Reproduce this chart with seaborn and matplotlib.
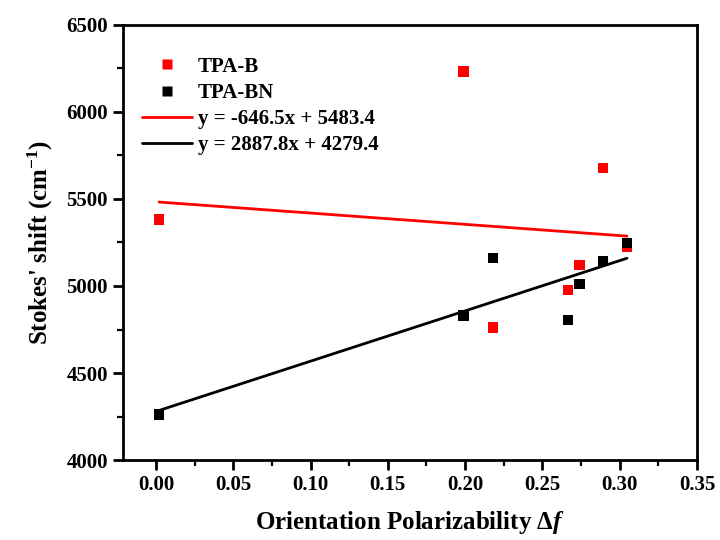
import numpy as np
import pandas as pd
import matplotlib
matplotlib.use('Agg')
from matplotlib import pyplot as plt
from matplotlib.ticker import MultipleLocator, FormatStrFormatter
import seaborn as sns

# data
delta_f = [0.002, 0.199, 0.218, 0.2665, 0.274, 0.289, 0.3047]
shift_tpa_b = [5382, 6232, 4762, 4978, 5120, 5678, 5222]
shift_tpa_bn = [4262, 4830, 5162, 4806, 5010, 5143, 5246]
series = ['TPA-B', 'TPA-BN']
colors = ['#ff0000', '#000000']
# linear fits as printed in the legend
slopes = [-646.5, 2887.8]
intercepts = [5483.4, 4279.4]
fit_labels = ['y = -646.5x + 5483.4', 'y = 2887.8x + 4279.4']

sns.set_style('ticks')
plt.rcParams['font.family'] = ['Liberation Serif', 'DejaVu Serif']
plt.rcParams['font.weight'] = 'bold'
plt.rcParams['mathtext.fontset'] = 'custom'
plt.rcParams['mathtext.rm'] = 'Liberation Serif:bold'
plt.rcParams['mathtext.bf'] = 'Liberation Serif:bold'
plt.rcParams['mathtext.it'] = 'Liberation Serif:bold:italic'
for k in ['text.color', 'axes.labelcolor', 'xtick.color', 'ytick.color', 'axes.edgecolor']:
    plt.rcParams[k] = 'black'

df = pd.DataFrame({
    'df': delta_f * 2,
    'shift': shift_tpa_b + shift_tpa_bn,
    'sample': [series[0]] * len(delta_f) + [series[1]] * len(delta_f),
})

fig = plt.figure(figsize=(7.2, 5.4), dpi=100)
ax = fig.add_axes([0.171, 0.148, 0.797, 0.806])

sns.scatterplot(data=df, x='df', y='shift', hue='sample', hue_order=series,
                palette=colors, marker='s', s=55, edgecolor='none', ax=ax, zorder=3)

xfit = np.array([min(delta_f), max(delta_f)])
for m, b, c, lab in zip(slopes, intercepts, colors, fit_labels):
    sns.lineplot(x=xfit, y=m * xfit + b, color=c, lw=2, label=lab, ax=ax, zorder=2)

ax.set_xlim(-0.0213, 0.35)
ax.set_ylim(4000, 6500)
ax.xaxis.set_major_locator(MultipleLocator(0.05))
ax.xaxis.set_minor_locator(MultipleLocator(0.025))
ax.yaxis.set_major_locator(MultipleLocator(500))
ax.yaxis.set_minor_locator(MultipleLocator(250))
ax.xaxis.set_major_formatter(FormatStrFormatter('%.2f'))

for s in ax.spines.values():
    s.set_linewidth(2)
    s.set_visible(True)
ax.tick_params(which='major', direction='out', length=7, width=2, labelsize=15, pad=4)
ax.tick_params(which='minor', direction='out', length=4, width=1.6)
for t in ax.get_xticklabels() + ax.get_yticklabels():
    t.set_fontweight('bold')

ax.set_xlabel('Orientation Polarizability $\\Delta\\mathit{f}$', fontsize=18, fontweight='bold', labelpad=10)
ax.set_ylabel("Stokes' shift (cm$^{\\mathbf{-1}}$)", fontsize=18, fontweight='bold', labelpad=8)

h, l = ax.get_legend_handles_labels()
ax.legend(h, l, loc='upper left', frameon=False, prop={'weight': 'bold', 'size': 15},
          handlelength=2.4, handletextpad=0.3, labelspacing=0.3,
          borderaxespad=0.5, bbox_to_anchor=(0.0, 0.97))

fig.savefig('out.png', dpi=100)
